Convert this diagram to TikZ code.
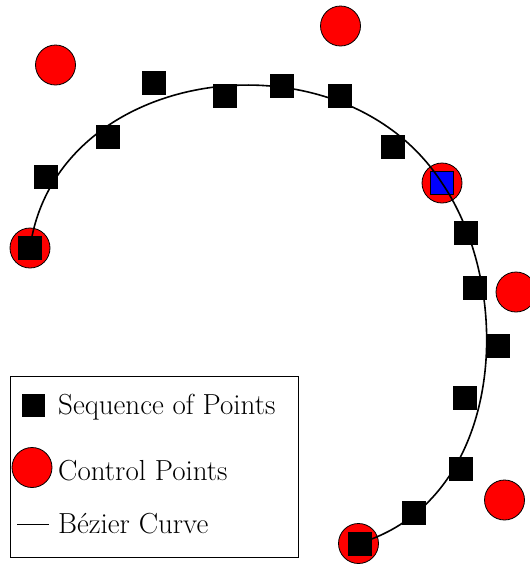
\documentclass[tikz,border=0pt]{standalone}
\begin{document}
\begin{tikzpicture}[x=1pt,y=-1pt,
  ctrl/.style={circle,draw=black,line width=0.8pt,fill=red,minimum size=40pt,inner sep=0pt},
  pt/.style={rectangle,fill=black,minimum size=24pt,inner sep=0pt},
  hpt/.style={rectangle,fill=blue,draw=black,line width=0.8pt,minimum size=23pt,inner sep=0pt},
  curve/.style={line width=1.6pt,black},
  lbl/.style={anchor=base west,inner sep=0pt,font=\fontsize{29}{34}\selectfont}]
\useasboundingbox (0,0) rectangle (530,566);
% control points
\node[ctrl] (c0) at (30,248) {};
\node[ctrl] (c1) at (55.5,65) {};
\node[ctrl] (c2) at (340.5,26) {};
\node[ctrl] (c3) at (442,183) {};
\node[ctrl] (c4) at (516,292) {};
\node[ctrl] (c5) at (504.5,500) {};
\node[ctrl] (c6) at (358.5,543.5) {};
% sequence of points
\node[pt] (s0) at (30,248) {};
\node[pt] (s1) at (45.5,176.5) {};
\node[pt] (s2) at (108,137) {};
\node[pt] (s3) at (154,83) {};
\node[pt] (s4) at (225,96) {};
\node[pt] (s5) at (281.5,85.5) {};
\node[pt] (s6) at (340,95.5) {};
\node[pt] (s7) at (393,147) {};
\node[hpt] (s8) at (442,183) {};
\node[pt] (s9) at (466,232.5) {};
\node[pt] (s10) at (475,288) {};
\node[pt] (s11) at (498,346) {};
\node[pt] (s12) at (465,398) {};
\node[pt] (s13) at (461,469) {};
\node[pt] (s14) at (414,513) {};
\node[pt] (s15) at (360,543.5) {};
% Bezier curve
\draw[curve] (c0.center) .. controls (c1.center) and (c2.center) .. (c3.center)
  .. controls (c4.center) and (c5.center) .. (c6.center);
% legend
\node[draw=black,line width=1pt,minimum width=288pt,minimum height=181pt,inner sep=0pt] (leg) at (154,467) {};
\node[pt,minimum size=23pt] (lsq) at (33.5,405) {};
\node[lbl] (t1) at (58,414.3) {Sequence of Points};
\node[ctrl] (lci) at (32,467.5) {};
\node[lbl] (t2) at (58,480) {Control Points};
\coordinate (la) at (17,524);
\coordinate (lb) at (49,524);
\draw[line width=1pt] (la) -- (lb);
\node[lbl] (t3) at (58,533.5) {Bézier Curve};
\end{tikzpicture}
\end{document}
